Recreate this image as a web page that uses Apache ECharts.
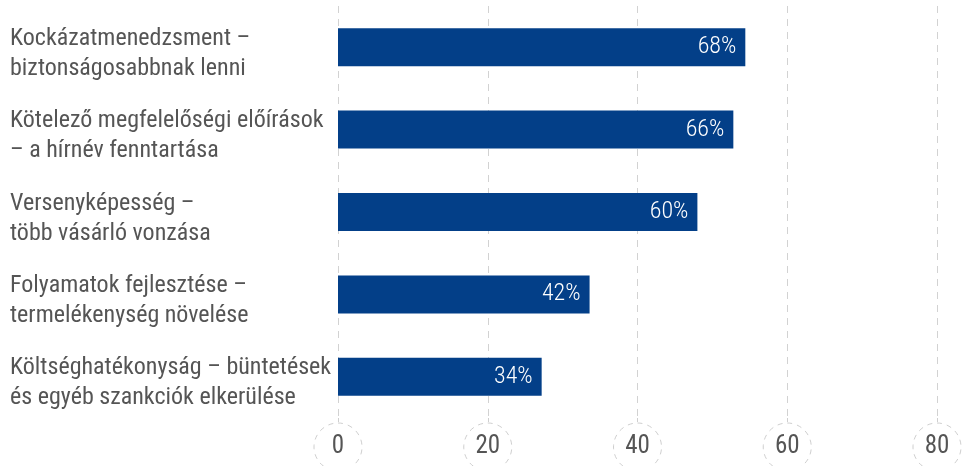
<!DOCTYPE html>
<html>
<head>
<meta charset="utf-8">
<script src="https://cdn.jsdelivr.net/npm/echarts@6/dist/echarts.min.js"></script>
<style>
  html, body { margin: 0; padding: 0; background: #fff; }
  #chart { width: 968px; height: 466px; }
</style>
</head>
<body>
<div id="chart"></div>
<script>
// Motivations for compliance, share of respondents
const categories = [
  'Kockázatmenedzsment –\nbiztonságosabbnak lenni',
  'Kötelező megfelelőségi előírások\n– a hírnév fenntartása',
  'Versenyképesség –\ntöbb vásárló vonzása',
  'Folyamatok fejlesztése –\ntermelékenység növelése',
  'Költséghatékonyság – büntetések\nés egyéb szankciók elkerülése'
];
const values = [68, 66, 60, 42, 34];
const tickLabels = ['0', '20', '40', '60', '80'];

const FONT = '"Roboto Condensed", "Liberation Sans Narrow", "DejaVu Sans Condensed", sans-serif';
const chart = echarts.init(document.getElementById('chart'), null, { renderer: 'canvas' });

chart.setOption({
  animation: false,
  backgroundColor: '#ffffff',
  grid: {
    left: 338, right: 31, top: 6, bottom: 48,
    containLabel: false,
    outerBoundsMode: 'none'
  },
  xAxis: {
    type: 'value',
    min: 0,
    max: 100,
    interval: 25,
    axisLine: { show: false },
    axisTick: {
      show: true,
      length: 5,
      lineStyle: { color: '#cfcfcf', type: [4, 3] }
    },
    splitLine: {
      show: true,
      lineStyle: { color: '#d2d2d2', width: 1, type: [7, 6] }
    },
    axisLabel: {
      margin: 5,
      formatter: v => tickLabels[Math.round(v / 25)],
      fontFamily: FONT,
      fontSize: 25,
      color: '#555555',
      width: 48,
      height: 48,
      lineHeight: 48,
      align: 'center',
      borderRadius: 24,
      borderWidth: 1,
      borderColor: '#cfcfcf',
      borderType: [5, 5]
    }
  },
  yAxis: {
    type: 'category',
    data: categories,
    inverse: true,
    axisLine: { show: false },
    axisTick: { show: false },
    splitLine: { show: false },
    axisLabel: {
      align: 'left',
      margin: 328,
      color: '#555555',
      // a thin leading spacer line nudges the two text lines below the bar centre
      formatter: v => '{s| }\n' + v.split('\n').map(l => '{a|' + l + '}').join('\n'),
      rich: {
        s: { fontSize: 6, lineHeight: 13, height: 13 },
        a: { fontFamily: FONT, fontSize: 24, lineHeight: 30, color: '#555555' }
      }
    }
  },
  series: [{
    type: 'bar',
    data: values,
    barWidth: 38,
    itemStyle: { color: '#033f88' },
    label: {
      show: true,
      position: 'insideRight',
      distance: 9,
      formatter: p => p.value + '%',
      fontFamily: FONT,
      fontWeight: 300,
      fontSize: 24,
      color: '#ffffff'
    }
  }]
});
</script>
</body>
</html>
